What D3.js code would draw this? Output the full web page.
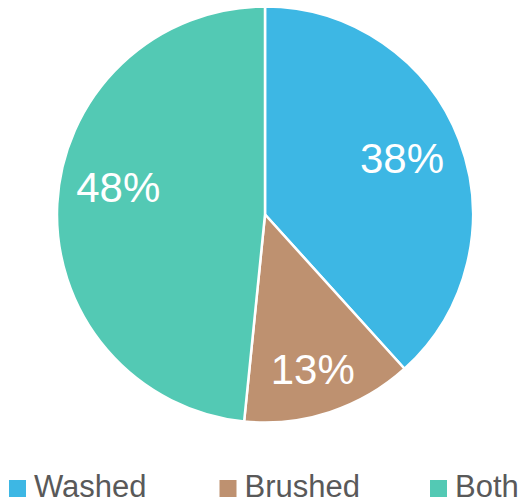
<!DOCTYPE html>
<html>
<head>
<meta charset="utf-8">
<script src="https://cdn.jsdelivr.net/npm/d3@7"></script>
<style>
  body { margin: 0; background: #fff; }
  svg { display: block; }
</style>
</head>
<body>
<svg id="chart"></svg>
<script>
// ---- data
let categories = ['Washed', 'Brushed', 'Both']
let shares = [38.3, 13.3, 48.4]
let colors = ['#3db7e4', '#be9170', '#53c9b4']

// ---- layout
let W = 521, H = 504
let cx = 265, cy = 214.5, R = 208
let labelR = 150
// small tweaks so labels sit where the original put them
let labelNudge = [[-3, -2], [1, 12], [3, -19]]

let svg = d3.select('#chart').attr('width', W).attr('height', H)

let pie = d3.pie().sort(null).value(d => d)
let arcs = pie(shares)

let arc = d3.arc().innerRadius(0).outerRadius(R)
let labelArc = d3.arc().innerRadius(labelR).outerRadius(labelR)

let g = svg.append('g').attr('transform', `translate(${cx},${cy})`)

g.selectAll('path').data(arcs)
  .enter()
  .append('path')
  .attr('d', arc)
  .attr('fill', (d, i) => colors[i])
  .attr('stroke', '#fff')
  .attr('stroke-width', 2.5)
  .attr('stroke-linejoin', 'round')

let total = d3.sum(shares)
g.selectAll('text').data(arcs)
  .enter()
  .append('text')
  .attr('x', (d, i) => labelArc.centroid(d)[0] + labelNudge[i][0])
  .attr('y', (d, i) => labelArc.centroid(d)[1] + labelNudge[i][1])
  .attr('text-anchor', 'middle')
  .attr('dominant-baseline', 'central')
  .attr('font-family', 'Liberation Sans, Arial, sans-serif')
  .attr('font-size', '42px')
  .attr('fill', '#fff')
  .text(d => Math.round(d.value / total * 100) + '%')

// ---- legend
let legendX = d3.scalePoint().domain(categories).range([9, 430])

let leg = svg.append('g').attr('class', 'legend')
let items = leg.selectAll('g').data(categories)
  .enter()
  .append('g')
  .attr('transform', d => `translate(${legendX(d)},480)`)

items.append('rect')
  .attr('width', 17)
  .attr('height', 17)
  .attr('fill', (d, i) => colors[i])

items.append('text')
  .attr('x', 25)
  .attr('y', 17)
  .attr('font-family', 'Liberation Sans, Arial, sans-serif')
  .attr('font-size', '31px')
  .attr('fill', '#595959')
  .text(d => d)
</script>
</body>
</html>
